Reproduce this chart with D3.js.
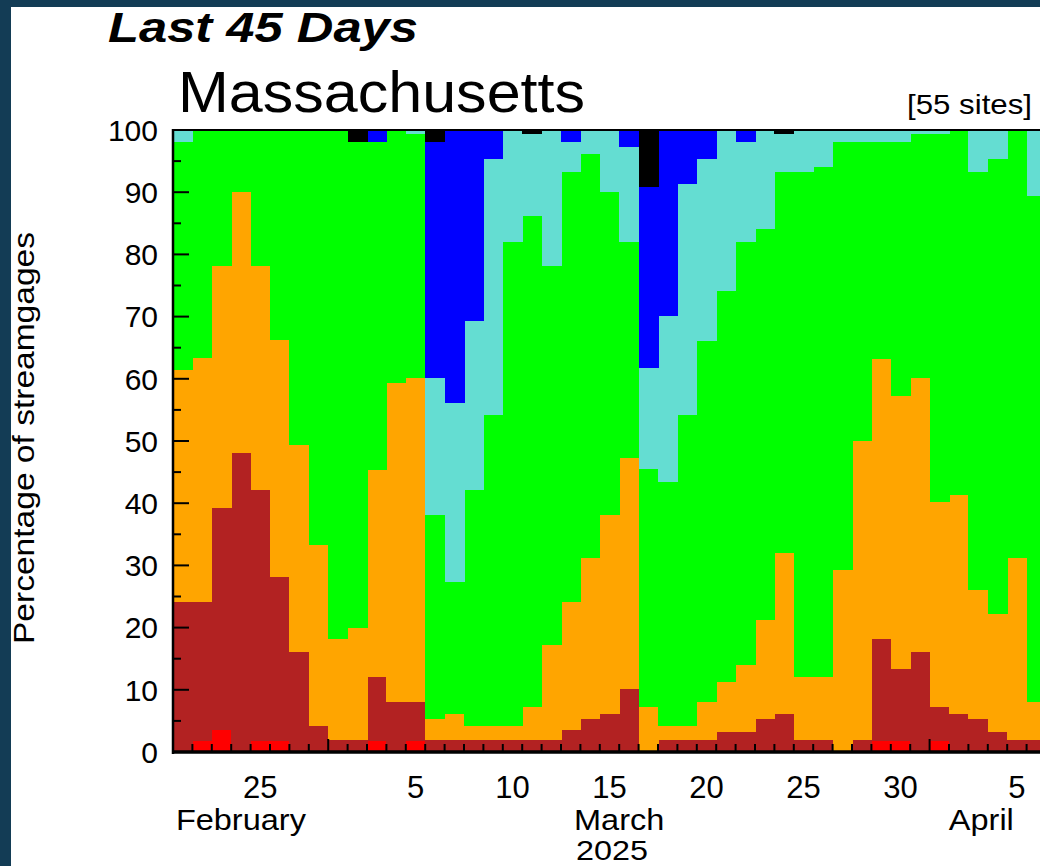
<!DOCTYPE html>
<html><head><meta charset="utf-8">
<script src="https://cdn.jsdelivr.net/npm/d3@7"></script>
<style>
html,body{margin:0;padding:0;background:#133c55;overflow:hidden}
svg{display:block}
text{font-family:"Liberation Sans",Arial,Helvetica,sans-serif;fill:#000}
</style>
</head><body>
<svg id="chart" width="1040" height="866"></svg>
<script>
// ---------- DATA ----------
const days = [
 "2025-02-21","2025-02-22","2025-02-23","2025-02-24","2025-02-25","2025-02-26","2025-02-27","2025-02-28",
 "2025-03-01","2025-03-02","2025-03-03","2025-03-04","2025-03-05","2025-03-06","2025-03-07","2025-03-08",
 "2025-03-09","2025-03-10","2025-03-11","2025-03-12","2025-03-13","2025-03-14","2025-03-15","2025-03-16",
 "2025-03-17","2025-03-18","2025-03-19","2025-03-20","2025-03-21","2025-03-22","2025-03-23","2025-03-24",
 "2025-03-25","2025-03-26","2025-03-27","2025-03-28","2025-03-29","2025-03-30","2025-03-31","2025-04-01",
 "2025-04-02","2025-04-03","2025-04-04","2025-04-05","2025-04-06"];

// percentage of streamgages in each flow class (bottom to top)
const low = [0,1.8,3.6,0,1.8,1.8,0,0,0,0, 1.8,0,1.8,0,0,0,0,0,0,0, 0,0,0,0,0,0,0,0,0,0, 0,0,0,0,0,0,1.8,1.8,0,1.8, 0,0,0,0,0];
const muchBelow = [24.1,22.3,35.6,48.0,40.3,26.3,16.1,4.2,2.0,2.0, 10.3,8.1,6.3,2.0,2.0,2.0,2.0,2.0,2.0,2.0, 3.6,5.3,6.1,10.1,0,2.0,2.0,2.0,3.2,3.2, 5.3,6.1,2.0,2.0,0,2.0,16.3,11.5,16.1,5.5, 6.1,5.3,3.2,2.0,2.0];
const below = [37.3,39.2,39.0,42.1,36.1,38.1,33.3,29.0,16.2,18.0, 33.2,51.2,52.1,3.3,4.1,2.2,2.2,2.2,5.3,15.2, 20.5,25.9,32.0,37.1,7.3,2.2,2.2,6.1,8.1,10.8, 15.9,25.9,10.1,10.1,29.3,48.0,45.1,44.0,44.0,32.9, 35.2,20.8,19.0,29.2,6.1];
const normal = [36.7,36.7,21.8,9.9,21.8,33.8,50.6,66.8,81.8,78.1, 52.8,40.7,39.2,32.8,21.2,37.9,50.0,77.8,78.8,61.0, 69.2,64.9,52.0,34.8,38.2,39.2,50.0,58.0,62.8,68.0, 62.9,61.3,81.2,81.9,68.8,48.1,34.9,40.8,39.3,59.2, 58.7,67.2,73.2,68.8,81.3];
const above = [1.9,0,0,0,0,0,0,0,0,0, 0,0,0.6,22.1,28.8,27.2,41.2,18.0,13.3,21.8, 4.8,3.9,9.9,15.3,16.3,26.7,37.1,29.3,25.9,16.1, 15.9,6.1,6.7,6.0,1.9,1.9,1.9,1.9,0.6,0.6, 0,6.7,4.6,0,10.6];
const muchAbove = [0,0,0,0,0,0,0,0,0,0, 1.9,0,0,37.9,43.9,30.7,4.6,0,0,0, 1.9,0,0,2.7,29.1,29.9,8.7,4.6,0,1.9, 0,0,0,0,0,0,0,0,0,0, 0,0,0,0,0];
const high = [0,0,0,0,0,0,0,0,0,1.9, 0,0,0,1.9,0,0,0,0,0.6,0, 0,0,0,0,9.1,0,0,0,0,0, 0,0.6,0,0,0,0,0,0,0,0, 0,0,0,0,0];

const classKeys = ["low","muchBelow","below","normal","above","muchAbove","high"];
const classColors = ["#ff0000","#b22222","#ffa500","#00ff00","#64ddd2","#0000ff","#000000"];

const yTickValues = [0,10,20,30,40,50,60,70,80,90,100];
const dayTickLabels = [
 {date:"2025-02-25",label:"25"},{date:"2025-03-05",label:"5"},{date:"2025-03-10",label:"10"},
 {date:"2025-03-15",label:"15"},{date:"2025-03-20",label:"20"},{date:"2025-03-25",label:"25"},
 {date:"2025-03-30",label:"30"},{date:"2025-04-05",label:"5"}];
const monthLabels = [
 {date:"2025-02-24T12:00",label:"February"},
 {date:"2025-03-16T00:00",label:"March"},
 {date:"2025-04-03T16:00",label:"April"}];
const yearLabel = {date:"2025-03-15T15:00",label:"2025"};
const titleText = "Last 45 Days";
const stateText = "Massachusetts";
const sitesText = "[55 sites]";
const yAxisTitle = "Percentage of streamgages";

// ---------- BUILD ----------
const parse = d3.utcParse("%Y-%m-%d");
const parseT = d3.utcParse("%Y-%m-%dT%H:%M");
const rows = days.map((d,i)=>({date:parse(d), low:low[i], muchBelow:muchBelow[i], below:below[i],
  normal:normal[i], above:above[i], muchAbove:muchAbove[i], high:high[i]}));

const svg = d3.select("#chart");
const L = 173, R = 1046, T = 130, B = 752;

svg.append("rect").attr("x",0).attr("y",0).attr("width",1040).attr("height",866).attr("fill","#133c55");
svg.append("rect").attr("x",11).attr("y",7).attr("width",1040).attr("height",866).attr("fill","#ffffff");

const start = rows[0].date, end = d3.utcDay.offset(rows[rows.length-1].date, 1);
const x = d3.scaleUtc().domain([start, end]).range([L, R]);
const y = d3.scaleLinear().domain([0,100]).range([B, T]);

const stack = d3.stack().keys(classKeys);
const series = stack(rows);

const g = svg.append("g").attr("shape-rendering","crispEdges");
g.selectAll("g.layer").data(series).join("g")
  .attr("class","layer")
  .attr("fill",(s,i)=>classColors[i])
  .selectAll("rect").data(s=>s.filter(d=>d[1]-d[0]>0)).join("rect")
  .attr("x", d=>x(d.data.date))
  .attr("width", d=>x(d3.utcDay.offset(d.data.date,1)) - x(d.data.date) + 0.5)
  .attr("y", d=>y(d[1]))
  .attr("height", d=>y(d[0]) - y(d[1]));

// frame
const ax = svg.append("g");
ax.append("line").attr("x1",L).attr("x2",R).attr("y1",T).attr("y2",T).attr("stroke","#000").attr("stroke-width",2);
ax.append("line").attr("x1",R).attr("x2",R).attr("y1",T).attr("y2",B).attr("stroke","#000").attr("stroke-width",2);
ax.append("line").attr("x1",L).attr("x2",L).attr("y1",T-1).attr("y2",B+2).attr("stroke","#000").attr("stroke-width",2.5);
ax.append("line").attr("x1",L-1).attr("x2",R).attr("y1",B).attr("y2",B).attr("stroke","#000").attr("stroke-width",3.5);

// y ticks (inward)
const yMinor = d3.range(0,101,5);
ax.selectAll("line.yt").data(yMinor).join("line").attr("class","yt")
  .attr("x1",L).attr("x2",d=> d%10===0 ? L+16 : L+8)
  .attr("y1",d=>y(d)).attr("y2",d=>y(d)).attr("stroke","#000").attr("stroke-width",2);
ax.selectAll("text.yl").data(yTickValues).join("text").attr("class","yl")
  .attr("x",158).attr("y",d=>y(d)).attr("dy","0.36em").attr("text-anchor","end")
  .attr("font-size",30).text(d=>d);

// x ticks (daily, inward)
const bounds = d3.utcDay.range(d3.utcDay.offset(start,1), end);
ax.selectAll("line.xt").data(bounds).join("line").attr("class","xt")
  .attr("x1",d=>x(d)).attr("x2",d=>x(d))
  .attr("y1",B).attr("y2",d=> d.getUTCDate()===1 ? B-13 : B-8)
  .attr("stroke","#000").attr("stroke-width",2);

// x labels
const mid = d => x(d3.utcHour.offset(parse(d),12));
ax.selectAll("text.xl").data(dayTickLabels).join("text").attr("class","xl")
  .attr("x",d=>mid(d.date)).attr("y",798).attr("text-anchor","middle")
  .attr("font-size",31).text(d=>d.label);
ax.selectAll("text.ml").data(monthLabels).join("text").attr("class","ml")
  .attr("x",d=>x(parseT(d.date))).attr("y",830).attr("text-anchor","middle")
  .attr("font-size",29).text(d=>d.label)
  .each(function(){ const w=this.getComputedTextLength(); d3.select(this).attr("textLength",w*1.12).attr("lengthAdjust","spacingAndGlyphs"); });
ax.append("text").attr("x",x(parseT(yearLabel.date))).attr("y",860).attr("text-anchor","middle")
  .attr("font-size",27).attr("textLength",72).attr("lengthAdjust","spacingAndGlyphs").text(yearLabel.label);

// titles
svg.append("text").attr("x",108).attr("y",42).attr("font-size",42).attr("font-weight","bold")
  .attr("font-style","italic").attr("textLength",310).attr("lengthAdjust","spacingAndGlyphs").text(titleText);
svg.append("text").attr("x",178).attr("y",112).attr("font-size",57)
  .attr("textLength",407).attr("lengthAdjust","spacingAndGlyphs").text(stateText);
svg.append("text").attr("x",1032).attr("y",114).attr("font-size",28).attr("text-anchor","end")
  .attr("textLength",125).attr("lengthAdjust","spacingAndGlyphs").text(sitesText);
svg.append("text").attr("transform","translate(34,438) rotate(-90)").attr("text-anchor","middle")
  .attr("font-size",30).attr("textLength",412).attr("lengthAdjust","spacingAndGlyphs").text(yAxisTitle);
</script>
</body></html>
